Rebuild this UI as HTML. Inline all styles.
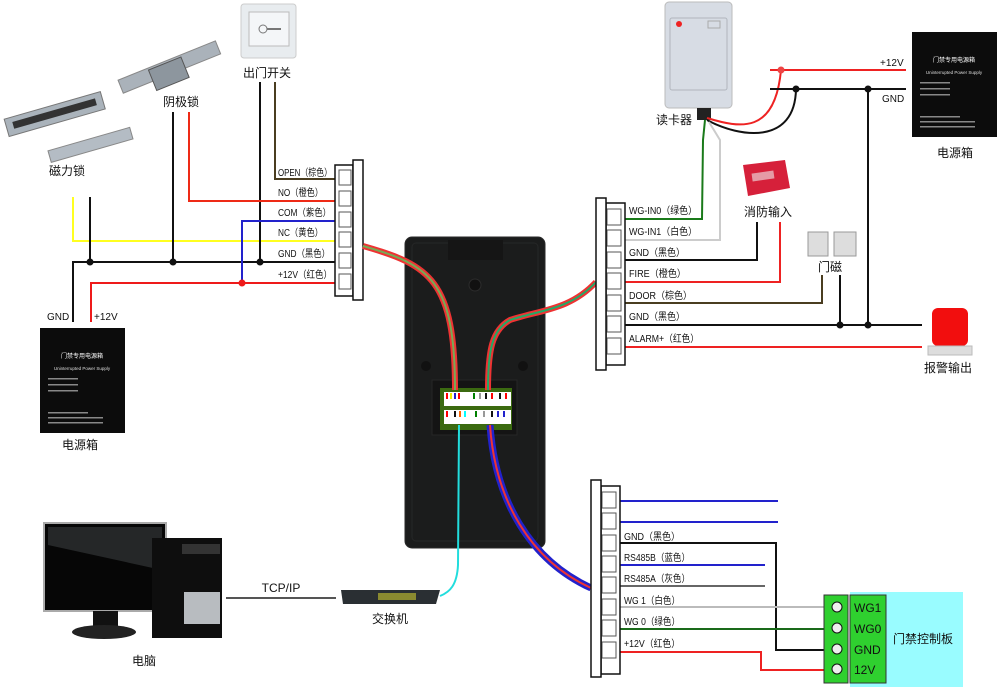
<!DOCTYPE html>
<html><head><meta charset="utf-8"><style>
html,body{margin:0;padding:0;background:#fff}
svg{display:block}
text{font-family:"Liberation Sans","Noto Sans CJK SC",sans-serif;fill:#111}
.s{font-size:10px}
.m{font-size:12px}
</style></head><body>
<svg width="1000" height="687" viewBox="0 0 1000 687" xmlns="http://www.w3.org/2000/svg">
<defs>
<g id="psu">
<rect x="0" y="0" width="85" height="105" fill="#0c0c0c"/>
<text x="42" y="30" text-anchor="middle" style="font-size:6px;fill:#fff">门禁专用电源箱</text>
<text x="42" y="42" text-anchor="middle" style="font-size:4.5px;fill:#ddd">Uninterrupted Power Supply</text>
<rect x="8" y="50" width="30" height="1.5" fill="#888"/><rect x="8" y="56" width="30" height="1.5" fill="#888"/><rect x="8" y="62" width="30" height="1.5" fill="#888"/>
<rect x="8" y="84" width="40" height="1.5" fill="#888"/><rect x="8" y="89" width="55" height="1.5" fill="#888"/><rect x="8" y="94" width="55" height="1.5" fill="#888"/>
</g>
</defs>

<g transform="rotate(-16 55 115)">
<rect x="5" y="105" width="100" height="18" fill="#aab3bb" stroke="#777"/>
<rect x="12" y="110" width="86" height="7" fill="#333"/>
</g>
<g transform="rotate(-16 90 145)">
<rect x="48" y="139" width="85" height="12" fill="#b4bcc4" stroke="#888"/>
</g>
<g transform="rotate(-22 170 70)">
<rect x="118" y="60" width="105" height="14" fill="#aab2ba" stroke="#888"/>
<rect x="150" y="62" width="35" height="22" fill="#8d969e" stroke="#555"/>
</g>
<rect x="241" y="4" width="55" height="54" rx="3" fill="#e8ecef" stroke="#ccc"/>
<rect x="249" y="12" width="40" height="34" fill="#f4f6f8" stroke="#bbb"/>
<circle cx="263" cy="29" r="4" fill="none" stroke="#777"/><line x1="267" y1="29" x2="281" y2="29" stroke="#777" stroke-width="2"/>
<text x="67" y="175" text-anchor="middle" class="m">磁力锁</text>
<text x="181" y="106" text-anchor="middle" class="m">阴极锁</text>
<text x="267" y="77" text-anchor="middle" class="m">出门开关</text>

<g fill="none" stroke-width="2">
<polyline points="73,197 73,241 335,241" stroke="#ffff20"/>
<polyline points="335,262 73,262 73,322" stroke="#111"/>
<line x1="90" y1="197" x2="90" y2="262" stroke="#111"/>
<line x1="173" y1="112" x2="173" y2="262" stroke="#111"/>
<line x1="260" y1="82" x2="260" y2="262" stroke="#111"/>
<polyline points="189,112 189,201 335,201" stroke="#ee2a16"/>
<polyline points="275,82 275,179 335,179" stroke="#4a3d20"/>
<polyline points="335,221 242,221 242,283" stroke="#2222cc"/>
<polyline points="335,283 91,283 91,322" stroke="#ee1a1a"/>
</g>
<circle cx="90" cy="262" r="3.5" fill="#111"/><circle cx="173" cy="262" r="3.5" fill="#111"/><circle cx="260" cy="262" r="3.5" fill="#111"/>
<circle cx="242" cy="283" r="3.5" fill="#ee1a1a"/>
<g class="s">
<text x="278" y="176" textLength="54" lengthAdjust="spacingAndGlyphs">OPEN（棕色）</text>
<text x="278" y="196" textLength="45" lengthAdjust="spacingAndGlyphs">NO（橙色）</text>
<text x="278" y="216" textLength="53" lengthAdjust="spacingAndGlyphs">COM（紫色）</text>
<text x="278" y="236" textLength="45" lengthAdjust="spacingAndGlyphs">NC（黄色）</text>
<text x="278" y="257" textLength="52" lengthAdjust="spacingAndGlyphs">GND（黑色）</text>
<text x="278" y="278" textLength="54" lengthAdjust="spacingAndGlyphs">+12V（红色）</text>
</g>
<rect x="335" y="165" width="18" height="131" fill="#fff" stroke="#111" stroke-width="1.5"/>
<g fill="#fff" stroke="#555"><rect x="339" y="170" width="12" height="15"/><rect x="339" y="191" width="12" height="15"/><rect x="339" y="212" width="12" height="15"/><rect x="339" y="232" width="12" height="15"/><rect x="339" y="253" width="12" height="15"/><rect x="339" y="274" width="12" height="15"/></g>
<rect x="353" y="160" width="10" height="140" fill="#fff" stroke="#111" stroke-width="1.5"/>
<use href="#psu" x="40" y="328"/>
<text x="47" y="320" class="s">GND</text><text x="94" y="320" class="s">+12V</text>
<text x="80" y="449" text-anchor="middle" class="m">电源箱</text>

<rect x="405" y="237" width="140" height="311" rx="7" fill="#1b1c1c" stroke="#2a2a2a"/>
<rect x="412" y="243" width="126" height="298" rx="4" fill="none" stroke="#262727"/>
<rect x="448" y="240" width="55" height="20" fill="#151515"/>
<circle cx="475" cy="285" r="6" fill="#111" stroke="#2c2c2c"/>
<circle cx="426" cy="366" r="5" fill="#111"/><circle cx="523" cy="366" r="5" fill="#111"/>
<rect x="432" y="380" width="85" height="55" fill="#141414" stroke="#262626"/>
<rect x="440" y="388" width="72" height="42" fill="#3b6a10"/>
<rect x="444" y="392" width="30" height="14" fill="#fff"/><rect x="470" y="392" width="41" height="14" fill="#fff"/>
<rect x="444" y="410" width="30" height="14" fill="#fff"/><rect x="470" y="410" width="41" height="14" fill="#fff"/>
<g stroke-width="2"><line x1="447" y1="393" x2="447" y2="399" stroke="red"/><line x1="451" y1="393" x2="451" y2="399" stroke="#ee0"/><line x1="455" y1="393" x2="455" y2="399" stroke="#22c"/><line x1="459" y1="393" x2="459" y2="399" stroke="red"/>
<line x1="474" y1="393" x2="474" y2="399" stroke="green"/><line x1="480" y1="393" x2="480" y2="399" stroke="#999"/><line x1="486" y1="393" x2="486" y2="399" stroke="#111"/><line x1="492" y1="393" x2="492" y2="399" stroke="red"/><line x1="500" y1="393" x2="500" y2="399" stroke="#111"/><line x1="506" y1="393" x2="506" y2="399" stroke="red"/>
<line x1="447" y1="411" x2="447" y2="417" stroke="red"/><line x1="455" y1="411" x2="455" y2="417" stroke="#111"/><line x1="460" y1="411" x2="460" y2="417" stroke="#f60"/><line x1="465" y1="411" x2="465" y2="417" stroke="cyan"/>
<line x1="476" y1="411" x2="476" y2="417" stroke="green"/><line x1="484" y1="411" x2="484" y2="417" stroke="#999"/><line x1="492" y1="411" x2="492" y2="417" stroke="#111"/><line x1="498" y1="411" x2="498" y2="417" stroke="#22c"/><line x1="504" y1="411" x2="504" y2="417" stroke="#22c"/></g>

<g fill="none">
<path d="M363,246 C430,265 455,280 455,390" stroke="#e33" stroke-width="6"/>
<path d="M363,246 C430,265 455,280 455,390" stroke="#7a5" stroke-width="2"/>
<path d="M596,282 C570,310 540,310 510,320 C492,330 488,350 488,390" stroke="#e33" stroke-width="6"/>
<path d="M596,282 C570,310 540,310 510,320 C492,330 488,350 488,390" stroke="#2a6" stroke-width="2"/>
<path d="M490,425 C495,500 530,560 591,588" stroke="#22c" stroke-width="7"/>
<path d="M490,425 C495,500 530,560 591,588" stroke="#e33" stroke-width="2"/>
<path d="M459,425 L458,565 C457,585 450,592 440,596" stroke="#2dd" stroke-width="2"/>
</g>

<rect x="44" y="523" width="122" height="88" fill="#060606" stroke="#aaa" stroke-width="2"/>
<polygon points="48,527 162,527 162,570 48,545" fill="#3a3d40" opacity="0.6"/>
<rect x="93" y="611" width="25" height="18" fill="#111"/>
<ellipse cx="104" cy="632" rx="32" ry="7" fill="#222"/>
<rect x="152" y="538" width="70" height="100" fill="#0e0e0e"/>
<rect x="182" y="544" width="38" height="10" fill="#333"/>
<rect x="184" y="592" width="36" height="32" fill="#b8bcc0"/>
<text x="144" y="665" text-anchor="middle" class="m">电脑</text>
<line x1="226" y1="598" x2="336" y2="598" stroke="#555" stroke-width="2"/>
<text x="281" y="592" text-anchor="middle" class="m">TCP/IP</text>
<polygon points="341,590 440,590 436,604 343,604" fill="#2a2f33"/>
<rect x="378" y="593" width="38" height="7" fill="#8a8a30"/>
<text x="390" y="623" text-anchor="middle" class="m">交换机</text>

<rect x="665" y="2" width="67" height="106" rx="4" fill="#d7dce4" stroke="#bbb"/>
<rect x="670" y="18" width="57" height="72" rx="2" fill="none" stroke="#b0b5bd"/>
<circle cx="679" cy="24" r="3" fill="#e22"/>
<rect x="708" y="21" width="12" height="7" fill="none" stroke="#aaa"/>
<rect x="697" y="108" width="14" height="12" fill="#222"/>
<text x="674" y="124" text-anchor="middle" class="m">读卡器</text>
<g fill="none" stroke-width="2">
<path d="M707,118 C740,128 775,135 781,70" stroke="#e22"/>
<path d="M707,120 C740,138 795,145 796,89" stroke="#111"/>
<polyline points="705,120 703,140 702,219 625,219" stroke="#1a7a1a"/>
<polyline points="709,122 720,140 720,240 625,240" stroke="#ccc"/>
<line x1="770" y1="70" x2="906" y2="70" stroke="#e22"/>
<line x1="770" y1="89" x2="906" y2="89" stroke="#111"/>
<line x1="868" y1="89" x2="868" y2="325" stroke="#111"/>
<polyline points="757,222 757,260 625,260" stroke="#111"/>
<polyline points="780,222 780,282 625,282" stroke="#e22"/>
<polyline points="822,275 822,303 625,303" stroke="#4a3d20"/>
<line x1="840" y1="275" x2="840" y2="325" stroke="#111"/>
<line x1="625" y1="325" x2="922" y2="325" stroke="#111"/>
<line x1="625" y1="347" x2="922" y2="347" stroke="#e22"/>
</g>
<circle cx="781" cy="70" r="3.5" fill="#e44"/>
<circle cx="796" cy="89" r="3.5" fill="#111"/><circle cx="868" cy="89" r="3.5" fill="#111"/>
<circle cx="840" cy="325" r="3.5" fill="#111"/><circle cx="868" cy="325" r="3.5" fill="#111"/>
<text x="880" y="66" class="s">+12V</text><text x="882" y="102" class="s">GND</text>
<use href="#psu" x="912" y="32"/>
<text x="955" y="157" text-anchor="middle" class="m">电源箱</text>
<polygon points="743,165 785,160 790,188 748,196" fill="#d6203a"/>
<rect x="752" y="172" width="22" height="8" fill="#eee" opacity="0.6" transform="rotate(-8 763 176)"/>
<text x="768" y="216" text-anchor="middle" class="m">消防输入</text>
<rect x="808" y="232" width="20" height="24" fill="#ddd" stroke="#999"/><rect x="834" y="232" width="22" height="24" fill="#ddd" stroke="#999"/>
<text x="830" y="271" text-anchor="middle" class="m">门磁</text>
<rect x="932" y="308" width="36" height="38" rx="6" fill="#f20e0e"/>
<rect x="928" y="346" width="44" height="9" fill="#ddd" stroke="#bbb"/>
<text x="948" y="372" text-anchor="middle" class="m">报警输出</text>
<rect x="606" y="203" width="19" height="162" fill="#fff" stroke="#111" stroke-width="1.5"/>
<g fill="#fff" stroke="#555"><rect x="607" y="209" width="14" height="16"/><rect x="607" y="230" width="14" height="16"/><rect x="607" y="252" width="14" height="16"/><rect x="607" y="273" width="14" height="16"/><rect x="607" y="295" width="14" height="16"/><rect x="607" y="316" width="14" height="16"/><rect x="607" y="338" width="14" height="16"/></g>
<rect x="596" y="198" width="10" height="172" fill="#fff" stroke="#111" stroke-width="1.5"/>
<g class="s">
<text x="629" y="214" textLength="68" lengthAdjust="spacingAndGlyphs">WG-IN0（绿色）</text>
<text x="629" y="235" textLength="68" lengthAdjust="spacingAndGlyphs">WG-IN1（白色）</text>
<text x="629" y="256" textLength="56" lengthAdjust="spacingAndGlyphs">GND（黑色）</text>
<text x="629" y="277" textLength="57" lengthAdjust="spacingAndGlyphs">FIRE（橙色）</text>
<text x="629" y="299" textLength="63" lengthAdjust="spacingAndGlyphs">DOOR（棕色）</text>
<text x="629" y="320" textLength="56" lengthAdjust="spacingAndGlyphs">GND（黑色）</text>
<text x="629" y="342" textLength="70" lengthAdjust="spacingAndGlyphs">ALARM+（红色）</text>
</g>

<g fill="none" stroke-width="2">
<line x1="620" y1="501" x2="778" y2="501" stroke="#22c"/>
<line x1="620" y1="522" x2="778" y2="522" stroke="#22c"/>
<polyline points="620,543 776,543 776,650 825,650" stroke="#111"/>
<line x1="620" y1="565" x2="765" y2="565" stroke="#22c"/>
<line x1="620" y1="586" x2="765" y2="586" stroke="#666"/>
<line x1="620" y1="607" x2="825" y2="607" stroke="#bbb"/>
<line x1="620" y1="629" x2="825" y2="629" stroke="#1a6a1a"/>
<polyline points="620,652 761,652 761,670 825,670" stroke="#e22"/>
</g>
<rect x="601" y="486" width="19" height="188" fill="#fff" stroke="#111" stroke-width="1.5"/>
<g fill="#fff" stroke="#555"><rect x="602" y="492" width="14" height="16"/><rect x="602" y="513" width="14" height="16"/><rect x="602" y="535" width="14" height="16"/><rect x="602" y="556" width="14" height="16"/><rect x="602" y="577" width="14" height="16"/><rect x="602" y="599" width="14" height="16"/><rect x="602" y="620" width="14" height="16"/><rect x="602" y="642" width="14" height="16"/></g>
<rect x="591" y="480" width="10" height="197" fill="#fff" stroke="#111" stroke-width="1.5"/>
<g class="s">
<text x="624" y="540" textLength="56" lengthAdjust="spacingAndGlyphs">GND（黑色）</text>
<text x="624" y="561" textLength="66" lengthAdjust="spacingAndGlyphs">RS485B（蓝色）</text>
<text x="624" y="582" textLength="66" lengthAdjust="spacingAndGlyphs">RS485A（灰色）</text>
<text x="624" y="604" textLength="56" lengthAdjust="spacingAndGlyphs">WG 1（白色）</text>
<text x="624" y="625" textLength="56" lengthAdjust="spacingAndGlyphs">WG 0（绿色）</text>
<text x="624" y="647" textLength="56" lengthAdjust="spacingAndGlyphs">+12V（红色）</text>
</g>
<rect x="850" y="592" width="113" height="95" fill="#99fcff"/>
<rect x="824" y="595" width="24" height="88" fill="#2fd02f" stroke="#333"/>
<rect x="850" y="595" width="36" height="88" fill="#2fd02f" stroke="#333"/>
<g fill="#eee" stroke="#111"><circle cx="837" cy="607" r="5"/><circle cx="837" cy="628" r="5"/><circle cx="837" cy="649" r="5"/><circle cx="837" cy="669" r="5"/></g>
<g style="font-size:12px"><text x="854" y="612">WG1</text><text x="854" y="633">WG0</text><text x="854" y="654">GND</text><text x="854" y="674">12V</text></g>
<text x="923" y="643" text-anchor="middle" class="m">门禁控制板</text>
</svg>
</body></html>
